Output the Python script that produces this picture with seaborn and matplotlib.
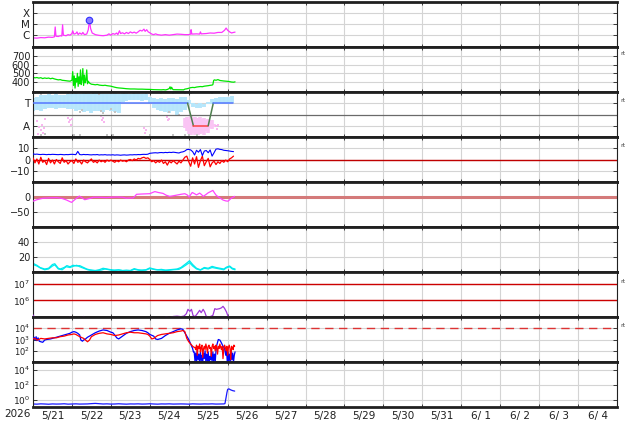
import numpy as np
import matplotlib
matplotlib.use('Agg')
import matplotlib.pyplot as plt
import matplotlib.transforms as mtrans
from matplotlib.ticker import NullLocator
import seaborn as sns

sns.set_style('white')
plt.rcParams['font.family'] = ['DejaVu Sans']

# ---------------- data (time in days since 5/21 00:00) ----------------
DAY_LABELS = ['5/21', '5/22', '5/23', '5/24', '5/25', '5/26', '5/27', '5/28',
              '5/29', '5/30', '5/31', '6/ 1', '6/ 2', '6/ 3', '6/ 4']
YEAR_LABEL = '2026'

# Panel 1: X-ray flux (log10 W/m2)
XRAY = [(0.00, -6.25), (0.10, -6.27), (0.20, -6.22), (0.30, -6.24), (0.40, -6.18), (0.50, -6.20),
        (0.55, -6.15), (0.57, -5.25), (0.59, -6.10), (0.65, -6.12), (0.70, -6.05), (0.74, -6.08),
        (0.76, -5.05), (0.78, -6.00), (0.85, -6.05), (0.90, -5.95), (0.95, -6.00), (1.00, -5.85),
        (1.02, -5.60), (1.05, -5.90), (1.10, -5.85), (1.13, -5.70), (1.16, -5.95), (1.20, -5.80),
        (1.25, -5.92), (1.28, -5.75), (1.32, -5.95), (1.38, -5.90), (1.42, -5.50), (1.45, -4.62),
        (1.48, -5.40), (1.52, -5.80), (1.60, -5.95), (1.70, -6.02), (1.80, -6.05), (1.90, -6.00),
        (1.95, -5.88), (2.00, -6.00), (2.05, -5.85), (2.10, -5.92), (2.15, -5.80), (2.18, -5.95),
        (2.22, -5.60), (2.25, -5.85), (2.30, -5.78), (2.35, -5.88), (2.40, -5.75), (2.45, -5.85),
        (2.50, -5.70), (2.55, -5.80), (2.60, -5.72), (2.65, -5.82), (2.70, -5.70), (2.75, -5.55),
        (2.80, -5.62), (2.85, -5.45), (2.88, -5.65), (2.92, -5.50), (2.96, -5.70), (3.00, -5.78),
        (3.05, -5.90), (3.10, -5.95), (3.15, -5.88), (3.20, -5.95), (3.30, -6.00), (3.40, -5.95),
        (3.50, -6.00), (3.60, -5.95), (3.70, -5.90), (3.80, -5.92), (3.90, -5.95), (4.00, -5.95),
        (4.05, -5.90), (4.06, -5.50), (4.08, -5.90), (4.20, -5.88), (4.28, -5.90), (4.30, -5.70),
        (4.32, -5.88), (4.45, -5.85), (4.55, -5.80), (4.65, -5.82), (4.75, -5.75), (4.85, -5.75),
        (4.92, -5.55), (4.96, -5.35), (5.00, -5.55), (5.05, -5.70), (5.10, -5.80), (5.15, -5.75),
        (5.19, -5.72)]
FLARE_T = [1.45]
FLARE_LOG = [-4.62]
XRAY_TICKS = [-6, -5, -4]
XRAY_LABELS = ['C', 'M', 'X']

# Panel 2: solar wind speed (km/s)
SPEED = [(0.00, 455), (0.05, 448), (0.10, 452), (0.15, 445), (0.20, 450), (0.25, 440), (0.30, 447),
         (0.35, 442), (0.40, 446), (0.45, 438), (0.50, 444), (0.55, 436), (0.60, 430), (0.65, 425),
         (0.70, 428), (0.75, 420), (0.80, 418), (0.85, 415), (0.90, 412), (0.95, 410), (1.00, 420),
         (1.02, 520), (1.04, 360), (1.06, 470), (1.08, 330), (1.10, 440), (1.12, 400), (1.14, 500),
         (1.16, 350), (1.18, 460), (1.20, 380), (1.22, 540), (1.24, 370), (1.26, 430), (1.28, 555),
         (1.30, 360), (1.32, 480), (1.34, 390), (1.36, 420), (1.38, 540), (1.40, 380), (1.42, 410),
         (1.44, 395), (1.46, 385), (1.50, 375), (1.55, 372), (1.60, 368), (1.65, 372), (1.70, 365),
         (1.75, 362), (1.80, 360), (1.85, 363), (1.90, 358), (1.95, 355), (2.00, 352), (2.05, 346),
         (2.10, 340), (2.15, 335), (2.20, 332), (2.30, 328), (2.40, 323), (2.50, 320), (2.60, 320),
         (2.70, 318), (2.80, 318), (2.90, 316), (3.00, 315), (3.10, 312), (3.20, 311), (3.30, 310),
         (3.35, 312), (3.40, 309), (3.45, 314), (3.50, 325), (3.52, 345), (3.54, 318), (3.56, 340),
         (3.58, 322), (3.60, 312), (3.87, 310), (3.90, 318), (3.95, 322), (4.00, 328), (4.05, 335),
         (4.10, 338), (4.15, 336), (4.20, 342), (4.25, 345), (4.30, 348), (4.35, 346), (4.40, 352),
         (4.45, 355), (4.50, 358), (4.55, 362), (4.60, 365), (4.62, 370), (4.64, 418), (4.66, 425),
         (4.70, 420), (4.75, 428), (4.80, 418), (4.85, 415), (4.90, 412), (4.95, 410), (5.00, 408),
         (5.05, 405), (5.10, 400), (5.15, 398), (5.19, 402)]
SPEED_TICKS = [400, 500, 600, 700]

# Panel 3: IMF sector (T = +1, A = -1)
SECTOR_BLUE_1 = [(0.0, 1), (3.97, 1)]
SECTOR_GREEN_1 = [(3.97, 1), (4.12, -1)]
SECTOR_RED = [(4.12, -1), (4.50, -1)]
SECTOR_GREEN_2 = [(4.50, -1), (4.63, 1)]
SECTOR_BLUE_2 = [(4.63, 1), (5.13, 1)]
BAND_T = [0.0, 0.1, 0.2, 0.3, 0.4, 0.5, 0.6, 0.7, 0.8, 0.9, 1.0, 1.1, 1.2, 1.3, 1.4, 1.5, 1.6, 1.7,
          1.8, 1.9, 2.0, 2.1, 2.2, 2.3, 2.4, 2.5, 2.6, 2.7, 2.8, 2.9, 3.0, 3.1, 3.2, 3.3, 3.4, 3.5,
          3.6, 3.7, 3.8, 3.9, 4.0, 4.1, 4.2, 4.3, 4.4, 4.5, 4.6, 4.7, 4.8, 4.9, 5.0, 5.1]
BAND_HI = [1.5, 1.6, 1.7, 1.75, 1.8, 1.75, 1.8, 1.7, 1.75, 1.8, 1.85, 1.9, 1.85, 1.9, 1.9, 1.85,
           1.9, 1.9, 1.85, 1.8, 1.85, 1.9, 1.85, 1.9, 1.9, 1.85, 1.9, 1.9, 1.85, 1.8, 1.55, 1.45,
           1.4, 1.45, 1.4, 1.45, 1.5, 1.4, 1.55, 1.6, 1.3, 1.0, 0.9, 1.0, 0.9, 1.1, 1.4, 1.5, 1.55,
           1.6, 1.55, 1.65]
BAND_LO = [0.3, 0.4, 0.35, 0.5, 0.6, 0.55, 0.5, 0.6, 0.55, 0.45, 0.5, 0.35, 0.4, 0.2, 0.3, 0.1,
           0.35, 0.3, 0.2, 0.4, 0.3, 0.25, 0.15, 1.1, 1.2, 1.3, 1.25, 1.3, 1.2, 1.25, 1.0, 0.6, 0.4,
           0.3, 0.2, 0.1, 0.3, 0.0, 0.2, 0.4, 0.9, 0.7, 0.6, 0.55, 0.7, 0.9, 0.95, 1.0, 0.95, 1.0,
           0.9, 1.05]
PINK_T = [3.90, 3.95, 4.00, 4.05, 4.10, 4.15, 4.20, 4.25, 4.30, 4.35, 4.40, 4.45, 4.50, 4.55, 4.60, 4.65]
PINK_HI = [-0.3, -0.2, -0.4, -0.1, -0.3, -0.2, -0.5, -0.3, -0.2, -0.4, -0.3, -0.5, -0.4, -0.6, -0.5, -0.8]
PINK_LO = [-1.2, -1.5, -1.7, -1.8, -1.6, -1.8, -1.7, -1.8, -1.75, -1.6, -1.8, -1.5, -1.6, -1.2, -1.3, -1.1]
PINK_PTS = [(0.10, -0.6), (0.15, -1.1), (0.20, -1.4), (0.22, -0.9), (0.25, -1.6), (0.28, -1.2),
            (0.12, -1.7), (0.30, -0.4), (0.90, -0.3), (0.92, -0.7), (0.95, -0.5), (0.98, -0.9),
            (1.00, -0.4), (1.75, -0.1), (1.78, -0.5), (1.80, -0.3), (1.82, -0.7), (2.85, -1.2),
            (2.88, -1.6), (2.90, -1.4), (3.45, -0.2), (3.48, -0.5), (3.50, -0.4), (4.70, -1.0),
            (4.75, -0.9), (4.72, -1.3)]
GRAY_PTS = [(0.05, 1.9), (0.20, 1.85), (0.45, 1.92), (0.60, 1.88), (0.90, 1.9), (1.10, 1.95),
            (1.35, 1.9), (1.55, 1.93), (1.70, 1.85), (2.00, 1.92), (2.35, 1.95), (2.60, 1.9),
            (2.90, 1.93), (3.30, 1.9), (3.60, 1.88), (3.90, 1.92), (4.05, 1.9), (4.60, 1.9),
            (4.90, 1.92), (1.20, 0.2), (1.25, 0.4), (1.75, 0.3), (1.80, 0.1), (2.00, 0.5),
            (2.10, 0.2), (3.50, 0.2), (3.75, 0.0), (0.20, -1.8), (0.30, -1.75), (1.05, -1.8),
            (1.20, -1.85), (1.90, -1.8), (2.05, -1.85), (3.00, -1.85), (3.60, -1.8), (3.90, -1.85),
            (4.00, -1.8), (4.20, -1.85)]
SECTOR_TICKS = [1, -1]
SECTOR_LABELS = ['T', 'A']

# Panel 4: IMF Bt (blue) and Bz (red), nT, every 0.05 day
BT = [5.0, 4.6, 4.8, 4.5, 4.4, 4.6, 4.5, 4.3, 4.5, 4.4, 4.6, 4.5, 4.4, 4.3, 4.5, 4.4, 4.2, 4.4, 4.3, 4.5,
      4.6, 4.5, 4.3, 7.2, 4.4, 4.2, 4.5, 4.3, 4.4, 4.2, 4.1, 4.3, 4.2, 4.4, 4.0, 4.2, 4.1, 4.3, 4.0, 4.1,
      4.0, 4.2, 3.9, 4.1, 4.0, 3.8, 4.0, 4.1, 3.9, 4.0, 4.2, 4.1, 4.3, 4.2, 4.4, 4.3, 4.5, 4.6, 4.5, 4.7,
      5.5, 5.7, 5.9, 6.0, 5.8, 6.1, 6.2, 6.0, 6.3, 6.1, 6.4, 6.2, 6.5, 6.3, 6.0, 5.8, 6.5, 6.8, 7.5, 8.8,
      9.0, 8.5, 7.0, 4.0, 8.2, 6.5, 8.8, 3.5, 7.5, 8.0, 6.0, 8.5, 3.0, 6.0, 9.2, 9.5, 9.0, 8.8, 8.2, 8.0,
      7.8, 7.5, 7.2, 7.0]
BZ = [1.5, -3.0, 0.5, -4.0, 2.0, -2.5, -1.0, -4.5, 1.0, -3.0, -0.5, -4.0, 0.0, -2.0, -3.5, 1.5, -2.5, -1.0, -4.0, -2.0,
      -1.0, -3.5, 0.5, -2.5, -1.5, -4.0, -0.5, -2.0, -3.0, -1.0, 0.5, -2.5, -1.5, -3.0, -0.5, -2.0, -1.0, -2.5, -0.5, -1.5,
      -0.5, -1.5, -2.5, -1.0, -2.0, -0.5, -1.5, -1.0, -2.0, -0.5, 0.0, -1.0, 0.5, -0.5, 1.0, 0.5, 1.5, 2.0, 1.0, 1.5,
      0.0, -2.0, -1.0, -3.0, -1.5, -2.5, -0.5, -3.5, -2.0, -5.0, -1.5, -3.0, -1.0, -2.5, -4.0, -1.5, -3.0, -0.5, 2.0, 3.0,
      -2.0, -6.0, 1.5, -4.0, 2.5, -7.0, -1.0, 3.0, -5.5, -2.0, 1.0, -6.5, -3.0, -1.5, -4.5, -2.0, -3.5, -1.0, -2.5, -0.5,
      -2.0, 0.5, 1.5, 3.0]
IMF_STEP = 0.05
IMF_TICKS = [10, 0, -10]

# Panel 5: Dst-like index (nT)
DST = [(0.0, -14), (0.1, -9), (0.26, -4), (0.4, -3), (0.61, -2), (0.75, -5), (0.86, -10), (0.99, -18),
       (1.08, -8), (1.19, 3), (1.26, -3), (1.33, -9), (1.45, -5), (1.55, -1), (1.7, -1), (1.89, -2),
       (2.0, -1), (2.15, 0), (2.3, -1), (2.4, -4), (2.5, -3), (2.57, -3), (2.62, 3), (2.66, 9),
       (2.8, 10), (3.0, 11), (3.07, 15), (3.13, 18), (3.22, 15), (3.34, 12), (3.42, 6), (3.51, 2),
       (3.6, 4), (3.68, 6), (3.8, 9), (3.9, 11), (3.96, 7), (4.01, 0), (4.05, 8), (4.09, 15),
       (4.15, 11), (4.2, 7), (4.24, 10), (4.28, 13), (4.33, 8), (4.37, 2), (4.44, 8), (4.5, 14),
       (4.56, 18), (4.62, 22), (4.67, 12), (4.71, 5), (4.8, -3), (4.88, -10), (4.95, -13),
       (5.01, -14), (5.09, -4), (5.18, 2)]
DST_TICKS = [0, -50]

# Panel 6: two cyan series
CYAN_1 = [(0.0, 11.5), (0.1, 9), (0.18, 6), (0.3, 4), (0.4, 5), (0.5, 10), (0.56, 11), (0.65, 5),
          (0.7, 4), (0.8, 6), (0.87, 8.5), (0.95, 7), (1.03, 9), (1.12, 8), (1.2, 8.5), (1.3, 6),
          (1.38, 4), (1.45, 3), (1.6, 2), (1.7, 3), (1.8, 5), (1.9, 4), (2.0, 3), (2.1, 2.5), (2.2, 3),
          (2.3, 2), (2.4, 2.5), (2.5, 2), (2.6, 4.5), (2.7, 3), (2.8, 2.5), (2.9, 3), (3.0, 5.5),
          (3.1, 4), (3.2, 3), (3.3, 3.5), (3.4, 2.5), (3.5, 3), (3.6, 3.5), (3.7, 4), (3.8, 6),
          (3.85, 8), (3.95, 12), (4.02, 15), (4.1, 10), (4.2, 5), (4.3, 3), (4.4, 6), (4.5, 5),
          (4.6, 7.5), (4.7, 6), (4.8, 5), (4.9, 4), (4.97, 6.5), (5.05, 8), (5.12, 5), (5.19, 4)]
CYAN_2 = [(0.0, 10), (0.1, 8), (0.2, 5), (0.3, 3), (0.4, 4), (0.5, 8), (0.56, 9.5), (0.65, 4),
          (0.75, 3), (0.85, 7), (0.95, 6), (1.03, 7.5), (1.12, 9), (1.2, 7), (1.3, 5), (1.4, 3),
          (1.5, 2), (1.6, 1.5), (1.75, 2.5), (1.85, 4), (1.95, 3), (2.05, 2), (2.2, 2.5), (2.35, 1.5),
          (2.5, 1.5), (2.6, 3.5), (2.75, 2), (2.9, 2.5), (3.0, 4.5), (3.15, 3), (3.3, 2.5), (3.45, 2),
          (3.6, 3), (3.75, 3.5), (3.85, 6.5), (3.95, 10), (4.02, 12.5), (4.1, 8), (4.2, 4), (4.3, 2.5),
          (4.4, 5), (4.5, 4), (4.6, 6), (4.7, 5), (4.8, 4), (4.9, 3), (4.97, 5.5), (5.05, 7),
          (5.12, 4), (5.19, 3)]
CYAN_TICKS = [20, 40]

# Panel 7: purple flux (log10) with thresholds
PURPLE = [(0.0, 5.12), (0.02, 5.05), (0.05, 4.95), (0.1, 4.85), (0.3, 4.8), (0.6, 4.85), (0.9, 4.9),
          (0.95, 5.02), (1.0, 4.9), (1.25, 4.9), (1.3, 5.03), (1.35, 4.9), (2.0, 4.8), (3.0, 4.85),
          (3.38, 4.95), (3.42, 5.02), (3.5, 4.95), (3.6, 5.03), (3.7, 5.05), (3.8, 5.02), (3.88, 5.06),
          (3.94, 5.2), (3.98, 5.46), (4.03, 5.34), (4.07, 5.46), (4.11, 5.1), (4.16, 5.02), (4.22, 5.2),
          (4.28, 5.4), (4.32, 5.26), (4.37, 5.46), (4.41, 5.3), (4.45, 5.04), (4.52, 5.0), (4.58, 5.05),
          (4.62, 5.1), (4.67, 5.5), (4.71, 5.46), (4.75, 5.48), (4.79, 5.5), (4.84, 5.55), (4.88, 5.64),
          (4.92, 5.52), (4.97, 5.3), (5.01, 5.04), (5.04, 4.8)]
P7_THRESH = [7, 6]

# Panel 8: electron fluxes (log10), blue and red
EBLUE_A = [(0.0, 3.1), (0.03, 3.2), (0.05, 2.95), (0.08, 3.25), (0.1, 2.9), (0.13, 3.15), (0.16, 2.85),
           (0.2, 2.8), (0.25, 2.75), (0.3, 2.95), (0.35, 3.0), (0.45, 3.05), (0.55, 3.15), (0.65, 3.25),
           (0.75, 3.35), (0.85, 3.45), (0.95, 3.55), (1.0, 3.65), (1.05, 3.7), (1.1, 3.65), (1.15, 3.55),
           (1.2, 3.4), (1.23, 2.95), (1.27, 2.85), (1.3, 2.95), (1.35, 3.05), (1.4, 3.2), (1.5, 3.4),
           (1.6, 3.6), (1.7, 3.75), (1.8, 3.85), (1.9, 3.8), (2.0, 3.65), (2.05, 3.6), (2.1, 3.4),
           (2.15, 3.15), (2.2, 3.05), (2.3, 3.3), (2.4, 3.55), (2.5, 3.7), (2.6, 3.8), (2.7, 3.85),
           (2.8, 3.8), (2.9, 3.7), (2.95, 3.6), (3.0, 3.45), (3.1, 3.3), (3.15, 3.05), (3.2, 3.0),
           (3.3, 3.1), (3.4, 3.35), (3.5, 3.55), (3.6, 3.7), (3.7, 3.85), (3.8, 3.95), (3.85, 3.9),
           (3.9, 3.6), (3.95, 3.3), (4.0, 3.0), (4.05, 2.6), (4.1, 2.2), (4.12, 1.9)]
EBLUE_NOISE1_START = 4.14
EBLUE_NOISE1 = [1.9, 1.1, 1.8, 1.0, 2.0, 1.2, 1.7, 1.0, 1.9, 1.1, 1.6, 1.0, 1.8, 1.3, 2.0, 1.0, 1.7,
                1.1, 1.9, 1.0, 1.5, 1.2, 1.8, 1.0, 1.9, 1.1, 1.7, 1.0, 2.0]
EBLUE_B = [(4.72, 2.5), (4.76, 3.0), (4.8, 2.95), (4.84, 2.7), (4.88, 2.4), (4.92, 2.2), (4.95, 1.6)]
EBLUE_NOISE2_START = 4.97
EBLUE_NOISE2 = [2.1, 1.0, 1.9, 1.1, 1.7, 1.0, 2.0, 1.2, 1.8, 1.0, 1.6, 1.9]
ERED_A = [(0.0, 3.05), (0.05, 3.1), (0.1, 2.95), (0.15, 3.0), (0.2, 3.1), (0.3, 3.05), (0.4, 3.1),
          (0.5, 3.15), (0.6, 3.15), (0.7, 3.25), (0.8, 3.3), (0.9, 3.4), (1.0, 3.45), (1.05, 3.5),
          (1.1, 3.45), (1.2, 3.25), (1.3, 3.1), (1.35, 2.95), (1.4, 2.8), (1.45, 2.95), (1.5, 3.25),
          (1.6, 3.45), (1.7, 3.55), (1.8, 3.6), (1.9, 3.5), (2.0, 3.45), (2.1, 3.35), (2.2, 3.4),
          (2.3, 3.5), (2.4, 3.6), (2.5, 3.65), (2.6, 3.6), (2.7, 3.6), (2.8, 3.55), (2.9, 3.5),
          (2.95, 3.45), (3.0, 3.3), (3.05, 3.05), (3.1, 3.1), (3.2, 3.35), (3.3, 3.45), (3.4, 3.5),
          (3.5, 3.55), (3.6, 3.6), (3.7, 3.7), (3.8, 3.75), (3.85, 3.8), (3.9, 3.7), (3.95, 3.1),
          (4.0, 2.8), (4.05, 2.6), (4.1, 2.4), (4.14, 2.3)]
ERED_NOISE_START = 4.16
ERED_NOISE = [2.3, 2.1, 2.5, 1.6, 2.4, 2.2, 2.6, 1.9, 2.3, 2.5, 1.4, 2.2, 2.4, 2.1, 2.6, 2.3, 1.8,
              2.4, 2.5, 2.2, 2.3, 1.5, 2.4, 2.6, 2.2, 2.4, 2.0, 2.5, 2.3, 1.7, 2.4, 2.2, 2.6, 2.3,
              2.1, 2.4, 1.3, 2.2, 2.5, 2.3, 2.0, 2.4, 1.6, 2.3, 2.5, 2.2, 1.2, 2.4, 2.3, 2.1, 2.5, 2.4]
NOISE_STEP = 0.02
E_THRESH = 4

# Panel 9: blue flux (log10)
FLAT9_STEP = 0.1
FLAT9 = [-0.6, -0.62, -0.58, -0.6, -0.63, -0.59, -0.61, -0.6, -0.57, -0.62,
         -0.6, -0.58, -0.61, -0.6, -0.59, -0.55, -0.52, -0.56, -0.6, -0.58,
         -0.61, -0.6, -0.57, -0.6, -0.62, -0.59, -0.6, -0.58, -0.61, -0.6,
         -0.57, -0.6, -0.62, -0.59, -0.6, -0.58, -0.61, -0.6, -0.59, -0.6,
         -0.62, -0.58, -0.6, -0.61, -0.59, -0.6, -0.58, -0.61, -0.6, -0.59]
RISE9 = [(4.93, -0.55), (4.96, 0.3), (4.98, 0.9), (5.0, 1.35), (5.03, 1.42), (5.08, 1.28),
         (5.13, 1.18), (5.18, 1.12)]
LOG_TICKS_8 = [2, 3, 4]
LOG_TICKS_9 = [0, 2, 4]

# ---------------- helpers ----------------
def split(pairs):
    return [p[0] for p in pairs], [p[1] for p in pairs]


def grid_times(start, step, n):
    return [round(start + k * step, 3) for k in range(n)]


def line(ax, x, y, color, lw=1.0, log=False, **kw):
    yy = [10 ** v for v in y] if log else list(y)
    sns.lineplot(x=list(x), y=yy, ax=ax, color=color, linewidth=lw, estimator=None,
                 sort=False, **kw)


FS = 7
GRID_C = '#d4d4d4'
SPINE_C = '#202020'

fig = plt.figure(figsize=(6.34, 4.24), dpi=100)
fig.patch.set_facecolor('white')
L = 33 / 634
W = 584 / 634
axes = []
for i in range(9):
    top = 2 + 45 * i
    ax = fig.add_axes([L, 1 - (top + 45) / 424, W, 45 / 424])
    axes.append(ax)


def style(ax, ylim, ticks, labels, log=False, label_fs=FS):
    if log:
        ax.set_yscale('log')
    ax.set_xlim(0, 15)
    ax.set_ylim(*ylim)
    ax.set_yticks(ticks)
    ax.set_yticklabels(labels)
    ax.yaxis.set_minor_locator(NullLocator())
    ax.set_xticks([])
    ax.set_xticks(list(range(16)), minor=True)
    ax.grid(True, which='minor', axis='x', color=GRID_C, lw=0.8)
    ax.grid(True, which='major', axis='y', color=GRID_C, lw=0.8)
    ax.set_axisbelow(True)
    ax.tick_params(axis='y', which='major', direction='in', length=3, width=0.6,
                   left=True, right=True, labelsize=label_fs, pad=2, colors=SPINE_C)
    ax.tick_params(axis='x', which='minor', direction='in', length=2, width=0.6,
                   bottom=True, top=True)
    for s in ['top', 'bottom']:
        ax.spines[s].set_linewidth(2.0)
        ax.spines[s].set_color(SPINE_C)
    for s in ['left', 'right']:
        ax.spines[s].set_linewidth(0.8)
        ax.spines[s].set_color(SPINE_C)
    ax.set_xlabel('')
    ax.set_ylabel('')


def rt(ax, yval):
    tr = mtrans.blended_transform_factory(ax.transAxes, ax.transData)
    ax.text(1.006, yval, 'rt', transform=tr, fontsize=4.5, ha='left', va='bottom', color='#444444')


# ---- Panel 1: X-ray
ax = axes[0]
t, v = split(XRAY)
line(ax, t, v, '#ff33ff', lw=0.9, log=True)
sns.scatterplot(x=FLARE_T, y=[10 ** v for v in FLARE_LOG], ax=ax, marker='o', s=22,
                color='#8a7cff', edgecolor='#3030ff', linewidth=0.8, zorder=5)
style(ax, (10 ** -7.08, 10 ** -2.97), [10 ** k for k in XRAY_TICKS], XRAY_LABELS, log=True, label_fs=7.5)

# ---- Panel 2: speed
ax = axes[1]
t, v = split(SPEED)
line(ax, t, v, '#00e600', lw=0.9)
style(ax, (285, 804), SPEED_TICKS, [str(k) for k in SPEED_TICKS])
rt(ax, 700)

# ---- Panel 3: sector
ax = axes[2]
ax.vlines(BAND_T, BAND_LO, BAND_HI, color='#b6e6fb', lw=2.8, zorder=1)
ax.vlines(PINK_T, PINK_LO, PINK_HI, color='#fac4f4', lw=2.6, zorder=1)
t, v = split(PINK_PTS)
sns.scatterplot(x=t, y=v, ax=ax, marker='s', s=3, color='#f9b6f0', linewidth=0, zorder=2)
t, v = split(GRAY_PTS)
sns.scatterplot(x=t, y=v, ax=ax, marker='s', s=3, color='#c4c4c4', linewidth=0, zorder=2)
ax.axhline(0, color='#6a6a6a', lw=0.9, zorder=2)
for seg, col in [(SECTOR_BLUE_1, '#5577ff'), (SECTOR_GREEN_1, '#4f7f4f'), (SECTOR_RED, '#ff4444'),
                 (SECTOR_GREEN_2, '#4f7f4f'), (SECTOR_BLUE_2, '#5577ff')]:
    t, v = split(seg)
    line(ax, t, v, col, lw=1.1, zorder=4)
style(ax, (-2, 2), SECTOR_TICKS, SECTOR_LABELS, label_fs=7.5)
rt(ax, 1)

# ---- Panel 4: IMF
ax = axes[3]
ax.axhline(0, color='#c00000', lw=1.0, zorder=2)
line(ax, grid_times(0, IMF_STEP, len(BZ)), BZ, '#ff0000', lw=0.9, zorder=3)
line(ax, grid_times(0, IMF_STEP, len(BT)), BT, '#0000ff', lw=0.8, zorder=4)
style(ax, (-20, 20), IMF_TICKS, [str(k) if k >= 0 else '\u2212' + str(-k) for k in IMF_TICKS])
rt(ax, 10)

# ---- Panel 5: Dst
ax = axes[4]
ax.axhline(0, color='#d47a7a', lw=2.2, zorder=2)
t, v = split(DST)
line(ax, t, v, '#ff44ff', lw=0.9, zorder=3)
style(ax, (-100, 50), DST_TICKS, [str(k) if k >= 0 else '\u2212' + str(-k) for k in DST_TICKS])

# ---- Panel 6: cyan
ax = axes[5]
t, v = split(CYAN_2)
line(ax, t, v, '#00f0f0', lw=0.9)
t, v = split(CYAN_1)
line(ax, t, v, '#00e8ee', lw=0.9)
style(ax, (0, 60), CYAN_TICKS, [str(k) for k in CYAN_TICKS])

# ---- Panel 7: purple
ax = axes[6]
for k in P7_THRESH:
    ax.axhline(10 ** k, color='#cc0000', lw=1.0, zorder=2)
t, v = split(PURPLE)
line(ax, t, v, '#a038d8', lw=0.9, log=True, zorder=3)
style(ax, (1e5, 10 ** 7.7), [10 ** k for k in P7_THRESH], [r'$10^{%d}$' % k for k in P7_THRESH],
      log=True, label_fs=6.5)
rt(ax, 10 ** 7)

# ---- Panel 8: electrons
ax = axes[7]
ax.axhline(10 ** E_THRESH, color='#dd3333', lw=1.0, dashes=(6, 4), zorder=2)
rt_ = ERED_A + list(zip(grid_times(ERED_NOISE_START, NOISE_STEP, len(ERED_NOISE)), ERED_NOISE))
bt_ = (EBLUE_A + list(zip(grid_times(EBLUE_NOISE1_START, NOISE_STEP, len(EBLUE_NOISE1)), EBLUE_NOISE1))
       + EBLUE_B + list(zip(grid_times(EBLUE_NOISE2_START, NOISE_STEP, len(EBLUE_NOISE2)), EBLUE_NOISE2)))
t, v = split(bt_)
line(ax, t, v, '#0000ff', lw=0.9, log=True, zorder=3)
t, v = split(rt_)
line(ax, t, v, '#ff0000', lw=0.9, log=True, zorder=4)
style(ax, (1e1, 1e5), [10 ** k for k in LOG_TICKS_8], [r'$10^{%d}$' % k for k in LOG_TICKS_8],
      log=True, label_fs=6.0)
rt(ax, 10 ** 4)

# ---- Panel 9: blue flux
ax = axes[8]
p9 = list(zip(grid_times(0, FLAT9_STEP, len(FLAT9)), FLAT9)) + RISE9
t, v = split(p9)
line(ax, t, v, '#1a1aff', lw=0.9, log=True)
style(ax, (1e-1, 1e5), [10 ** k for k in LOG_TICKS_9], [r'$10^{%d}$' % k for k in LOG_TICKS_9],
      log=True, label_fs=6.5)
ax.set_xticks([k + 0.5 for k in range(len(DAY_LABELS))])
ax.set_xticklabels(DAY_LABELS)
ax.tick_params(axis='x', which='major', length=0, labelsize=7.5, pad=3, colors=SPINE_C)
ax.text(-0.026, -0.16, YEAR_LABEL, transform=ax.transAxes, ha='center', va='center',
        fontsize=7.5, color=SPINE_C)

for a in axes:
    leg = a.get_legend()
    if leg is not None:
        leg.remove()

fig.savefig('out.png', dpi=100, facecolor='white')
